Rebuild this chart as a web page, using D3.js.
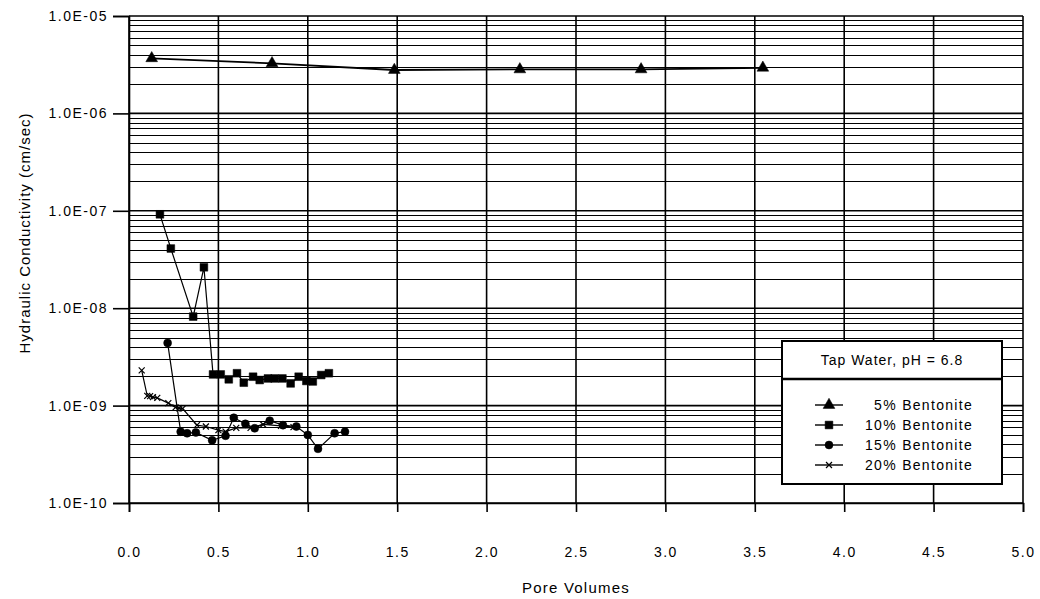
<!DOCTYPE html>
<html>
<head>
<meta charset="utf-8">
<script src="https://cdn.jsdelivr.net/npm/d3@7"></script>
<style>
  body { margin: 0; background: #fff; }
  text { font-family: "Liberation Sans", Arial, sans-serif; fill: #000; }
</style>
</head>
<body>
<script>
// Pore volumes vs hydraulic conductivity (cm/sec)
const bent5x  = [0.127, 0.80, 1.484, 2.186, 2.864, 3.545];
const bent5y  = [3.68e-6, 3.27e-6, 2.79e-6, 2.83e-6, 2.83e-6, 2.94e-6];

const bent10x = [0.173, 0.234, 0.359, 0.419, 0.470, 0.513, 0.558, 0.604, 0.642, 0.694,
                 0.731, 0.777, 0.815, 0.858, 0.904, 0.949, 0.992, 1.028, 1.075, 1.118];
const bent10y = [9.2e-8, 4.1e-8, 8.2e-9, 2.63e-8, 2.09e-9, 2.09e-9, 1.86e-9, 2.15e-9, 1.72e-9, 1.98e-9,
                 1.83e-9, 1.90e-9, 1.90e-9, 1.90e-9, 1.69e-9, 1.98e-9, 1.79e-9, 1.77e-9, 2.06e-9, 2.15e-9];

const bent15x = [0.216, 0.289, 0.325, 0.374, 0.465, 0.540, 0.586, 0.651, 0.703, 0.787,
                 0.861, 0.936, 1.000, 1.057, 1.150, 1.208];
const bent15y = [4.4e-9, 5.4e-10, 5.2e-10, 5.3e-10, 4.4e-10, 4.9e-10, 7.5e-10, 6.5e-10, 5.85e-10, 7.0e-10,
                 6.3e-10, 6.1e-10, 5.0e-10, 3.6e-10, 5.2e-10, 5.4e-10];

const bent20x = [0.071, 0.102, 0.118, 0.134, 0.158, 0.22, 0.26, 0.28, 0.30, 0.38,
                 0.43, 0.50, 0.54, 0.60, 0.68, 0.75, 0.85, 0.92];
const bent20y = [2.3e-9, 1.26e-9, 1.25e-9, 1.22e-9, 1.2e-9, 1.06e-9, 9.6e-10, 9.4e-10, 9.3e-10, 6.3e-10,
                 6.1e-10, 5.6e-10, 5.4e-10, 5.9e-10, 5.9e-10, 6.4e-10, 6.2e-10, 6.0e-10];

const seriesNames = ["  5% Bentonite", "10% Bentonite", "15% Bentonite", "20% Bentonite"];
const legendTitle = "Tap Water, pH = 6.8";

const xTicks = [0, 0.5, 1.0, 1.5, 2.0, 2.5, 3.0, 3.5, 4.0, 4.5, 5.0];
const yTicks = [1e-5, 1e-6, 1e-7, 1e-8, 1e-9, 1e-10];
const yTickLabels = ["1.0E-05", "1.0E-06", "1.0E-07", "1.0E-08", "1.0E-09", "1.0E-10"];

const W = 1040, H = 599;
const svg = d3.select("body").append("svg").attr("width", W).attr("height", H);

const x = d3.scaleLinear().domain([0, 5]).range([129, 1023]);
const y = d3.scaleLog().domain([1e-10, 1e-5]).range([503, 16]);

// minor log gridlines 2..9 per decade
let minor = [];
for (let e = -10; e < -5; e++) {
  for (let m = 2; m <= 9; m++) minor.push(m * Math.pow(10, e));
}

const grid = svg.append("g");
grid.selectAll(".hmin").data(minor).join("line")
  .attr("x1", x(0)).attr("x2", x(5))
  .attr("y1", d => Math.round(y(d)) + 0.5).attr("y2", d => Math.round(y(d)) + 0.5)
  .attr("stroke", "#000").attr("stroke-width", 1.2);
grid.selectAll(".hmaj").data(yTicks).join("line")
  .attr("x1", x(0)).attr("x2", x(5))
  .attr("y1", d => y(d)).attr("y2", d => y(d))
  .attr("stroke", "#000").attr("stroke-width", 1.6);
grid.selectAll(".v").data(xTicks).join("line")
  .attr("x1", d => x(d)).attr("x2", d => x(d))
  .attr("y1", y(1e-5)).attr("y2", y(1e-10))
  .attr("stroke", "#000").attr("stroke-width", 1.6);

// axes
const ax = svg.append("g").attr("transform", `translate(0,${y(1e-10)})`)
  .call(d3.axisBottom(x).tickValues(xTicks).tickSize(9).tickPadding(35).tickFormat(d3.format(".1f")));
const ay = svg.append("g").attr("transform", `translate(${x(0)},0)`)
  .call(d3.axisLeft(y).tickValues(yTicks).tickSize(16).tickPadding(5).tickFormat((d, i) => yTickLabels[i]));
[ax, ay].forEach(g => {
  g.select(".domain").attr("stroke", "#000").attr("stroke-width", 1.6);
  g.selectAll(".tick line").attr("stroke", "#000").attr("stroke-width", 1.6);
  g.selectAll("text").attr("font-size", 14).attr("letter-spacing", "1.5px")
    .attr("font-family", "Liberation Sans, Arial, sans-serif").attr("fill", "#000");
});

// axis titles
svg.append("text").attr("x", 576).attr("y", 593).attr("text-anchor", "middle")
  .attr("font-size", 15).attr("letter-spacing", "1.2px").text("Pore Volumes");
svg.append("text").attr("transform", "translate(30,233) rotate(-90)").attr("text-anchor", "middle")
  .attr("font-size", 15).attr("letter-spacing", "1px").text("Hydraulic Conductivity (cm/sec)");

// series
const series = [
  { xs: bent5x, ys: bent5y, sym: d3.symbolTriangle, size: 60, lw: 1.8 },
  { xs: bent10x, ys: bent10y, sym: d3.symbolSquare, size: 60, lw: 1.2 },
  { xs: bent15x, ys: bent15y, sym: d3.symbolCircle, size: 50, lw: 1.2 },
  { xs: bent20x, ys: bent20y, sym: d3.symbolX, size: 25, lw: 1.2 }
];

const line = d3.line().x(d => x(d[0])).y(d => y(d[1]));

series.forEach(s => {
  const pts = s.xs.map((v, i) => [v, s.ys[i]]);
  svg.append("path").datum(pts).attr("d", line)
    .attr("fill", "none").attr("stroke", "#000").attr("stroke-width", s.lw);
  const isX = s.sym === d3.symbolX;
  svg.append("g").selectAll("path").data(pts).join("path")
    .attr("transform", d => `translate(${x(d[0])},${y(d[1])})`)
    .attr("d", d3.symbol(s.sym, s.size))
    .attr("fill", isX ? "none" : "#000")
    .attr("stroke", "#000").attr("stroke-width", isX ? 1.2 : 0.5);
});

// legend
const lg = svg.append("g");
lg.append("rect").attr("x", 782).attr("y", 341).attr("width", 220).attr("height", 143)
  .attr("fill", "#fff").attr("stroke", "#000").attr("stroke-width", 2);
lg.append("line").attr("x1", 782).attr("x2", 1002).attr("y1", 379).attr("y2", 379)
  .attr("stroke", "#000").attr("stroke-width", 2.5);
lg.append("text").attr("x", 892).attr("y", 365).attr("text-anchor", "middle")
  .attr("font-size", 14).attr("letter-spacing", "1px").text(legendTitle);

seriesNames.forEach((name, i) => {
  const cy = 405 + i * 20;
  const s = series[i];
  const isX = s.sym === d3.symbolX;
  lg.append("line").attr("x1", 815).attr("x2", 843).attr("y1", cy).attr("y2", cy)
    .attr("stroke", "#000").attr("stroke-width", 1.4);
  lg.append("path").attr("transform", `translate(829,${cy})`)
    .attr("d", d3.symbol(s.sym, s.size))
    .attr("fill", isX ? "none" : "#000").attr("stroke", "#000").attr("stroke-width", isX ? 1.2 : 0.5);
  lg.append("text").attr("x", 973).attr("y", cy + 5).attr("text-anchor", "end")
    .attr("font-size", 14).attr("letter-spacing", "1.3px").attr("xml:space", "preserve").text(name);
});
</script>
</body>
</html>
